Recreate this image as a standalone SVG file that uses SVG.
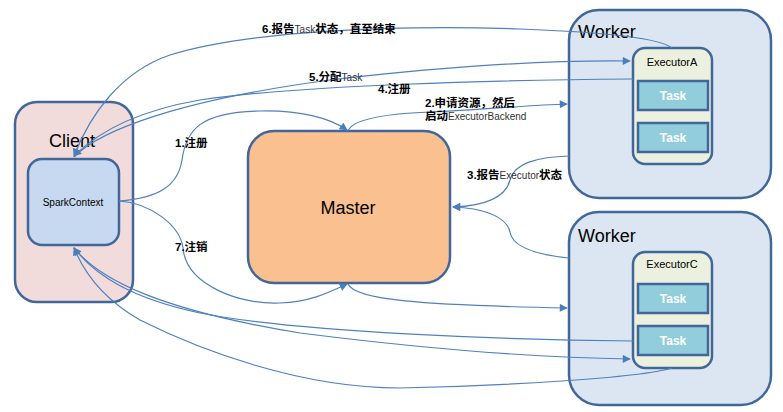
<svg xmlns="http://www.w3.org/2000/svg" width="783" height="412" viewBox="0 0 783 412">
<defs>
<marker id="arr" viewBox="0 0 10 10" refX="9" refY="5" markerWidth="9" markerHeight="8" markerUnits="userSpaceOnUse" orient="auto">
<path d="M0,0 L10,5 L0,10 z" fill="#4a7ebb"/>
</marker>
<style>
.box{stroke:#41669a;stroke-width:2.5}
.title{font-family:"Liberation Sans","Open Sans",sans-serif;fill:#000}
.lbl{font-family:"Liberation Sans","Noto Sans CJK SC",sans-serif;font-size:11.5px;font-weight:bold;fill:#000}
.lt{font-weight:normal;font-size:10px;fill:#333}
.task{font-family:"Liberation Sans",sans-serif;font-size:12px;font-weight:bold;fill:#fff;text-anchor:middle}
.conn path{fill:none;stroke:#4f81bd;stroke-width:1.2}
</style>
</defs>
<rect width="783" height="412" fill="#fff"/>

<g id="client">
<rect class="box" x="15" y="102" width="118" height="200" rx="22" fill="#f2dcdb"/>
<text class="title" x="49" y="147" font-size="18">Client</text>
</g>
<g id="sparkcontext">
<rect class="box" x="28" y="159" width="91" height="86" rx="14" fill="#c6d9f1"/>
<text class="title" x="73" y="206" font-size="10" text-anchor="middle">SparkContext</text>
</g>
<g id="master">
<rect class="box" x="248" y="131" width="202" height="152" rx="26" fill="#fac090"/>
<text class="title" x="348" y="214" font-size="18" text-anchor="middle">Master</text>
</g>
<g id="worker1">
<rect class="box" x="569" y="10" width="202" height="188" rx="30" fill="#dce6f2"/>
<text class="title" x="578" y="38" font-size="18">Worker</text>
</g>
<g id="executorA">
<rect class="box" x="633" y="48" width="79" height="116" rx="12" fill="#ebf1de"/>
<text class="title" x="672" y="66" font-size="11" text-anchor="middle">ExecutorA</text>
</g>
<g id="taskA1">
<rect x="638" y="81" width="70" height="29" fill="#92cddc" stroke="#41669a" stroke-width="2.5"/>
<text class="task" x="673" y="100">Task</text>
</g>
<g id="taskA2">
<rect x="638" y="123" width="70" height="29" fill="#92cddc" stroke="#41669a" stroke-width="2.5"/>
<text class="task" x="673" y="142">Task</text>
</g>
<g id="worker2">
<rect class="box" x="569" y="212" width="202" height="193" rx="30" fill="#dce6f2"/>
<text class="title" x="578" y="242" font-size="18">Worker</text>
</g>
<g id="executorC">
<rect class="box" x="633" y="252" width="79" height="116" rx="12" fill="#ebf1de"/>
<text class="title" x="672" y="268" font-size="11" text-anchor="middle">ExecutorC</text>
</g>
<g id="taskC1">
<rect x="638" y="284" width="70" height="29" fill="#92cddc" stroke="#41669a" stroke-width="2.5"/>
<text class="task" x="673" y="303">Task</text>
</g>
<g id="taskC2">
<rect x="638" y="326" width="70" height="29" fill="#92cddc" stroke="#41669a" stroke-width="2.5"/>
<text class="task" x="673" y="345">Task</text>
</g>

<g class="conn" id="connectors">
<path d="M119,201 C160,198 178,185 182,160 C186,130 200,112 260,111 C300,110 330,118 347,130" marker-end="url(#arr)"/>
<path d="M348,131 C352,120 380,114 430,112 C480,110 530,105 567,104" marker-end="url(#arr)"/>
<path d="M569,156 C540,157 515,162 510,180 C505,200 480,206 453,207" marker-end="url(#arr)"/>
<path d="M569,258 C530,254 512,245 510,232 C506,215 480,208 453,207" marker-end="url(#arr)"/>
<path d="M633,79 C500,80 300,85 200,100 C130,112 95,135 74,156" marker-end="url(#arr)"/>
<path d="M74,157 C100,130 180,100 330,80 C450,66 550,60 630,61" marker-end="url(#arr)"/>
<path d="M672,48 C660,38 600,32 520,29 C400,25 250,30 170,55 C120,72 90,115 74,156" marker-end="url(#arr)"/>
<path d="M119,201 C150,203 180,225 183,248 C186,285 240,305 280,303 C310,302 330,292 347,284" marker-end="url(#arr)"/>
<path d="M348,284 C355,300 420,305 567,308" marker-end="url(#arr)"/>
<path d="M633,341 C520,340 300,333 200,313 C130,298 95,275 74,248" marker-end="url(#arr)"/>
<path d="M74,248 C100,280 160,310 300,333 C450,352 560,358 630,359" marker-end="url(#arr)"/>
<path d="M672,368 C640,378 500,386 400,388 C300,388 200,350 140,320 C105,300 85,275 74,248" marker-end="url(#arr)"/>
</g>

<g id="labels">
<text class="lbl" x="262" y="33">6.报告<tspan class="lt">Task</tspan>状态，直至结束</text>
<text class="lbl" x="309" y="81">5.分配<tspan class="lt">Task</tspan></text>
<text class="lbl" x="378" y="93">4.注册</text>
<text class="lbl" x="425" y="107">2.申请资源，然后</text>
<text class="lbl" x="425" y="120">启动<tspan class="lt">ExecutorBackend</tspan></text>
<text class="lbl" x="175" y="147">1.注册</text>
<text class="lbl" x="467" y="179">3.报告<tspan class="lt">Executor</tspan>状态</text>
<text class="lbl" x="175" y="251">7.注销</text>
</g>
</svg>
